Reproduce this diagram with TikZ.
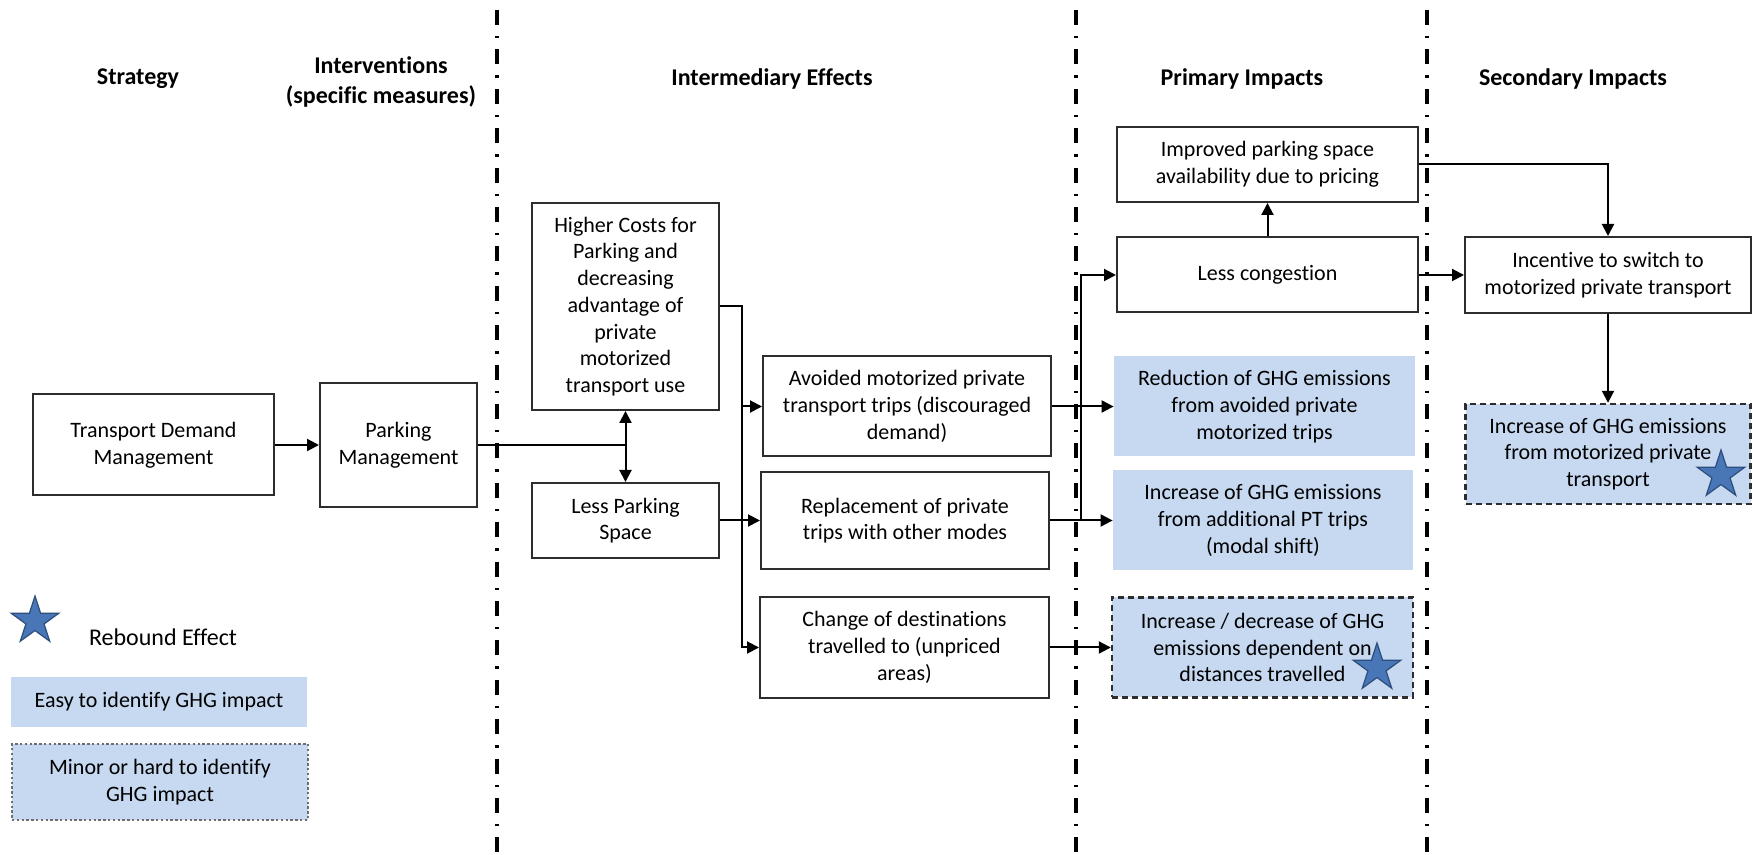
\documentclass[tikz,border=0pt]{standalone}
\usepackage{fontspec}
\setmainfont{Carlito}[Ligatures=NoCommon]
\usetikzlibrary{arrows.meta,shapes.geometric}
\definecolor{ghgblue}{RGB}{198,217,241}
\definecolor{starfill}{RGB}{72,118,182}
\definecolor{starline}{RGB}{45,78,125}
\definecolor{boxline}{RGB}{45,45,45}
\definecolor{dotline}{RGB}{110,110,110}

\begin{document}
\begin{tikzpicture}[x=0.5pt,y=-0.5pt,
  wh/.style 2 args={minimum width=#1*0.5pt,minimum height=#2*0.5pt},
  base/.style={inner sep=0pt,align=center,font=\fontsize{11}{13.35}\selectfont},
  box/.style={base,draw=boxline,line width=1pt,fill=white},
  ghg/.style={base,fill=ghgblue},
  ghgdash/.style={base,fill=ghgblue,draw=boxline,line width=1.2pt,dash pattern=on 3pt off 2pt},
  ghgdot/.style={base,fill=ghgblue,draw=dotline,line width=0.6pt,dash pattern=on 1.2pt off 1.2pt},
  head/.style={inner sep=0pt,align=center,font=\fontsize{12}{15}\selectfont\bfseries},
  divider/.style={line width=1.6pt,dash pattern=on 7.5pt off 5.5pt on 1.2pt off 5.5pt},
  conn/.style={line width=1pt,draw=black},
  arr/.style={conn,-{Triangle[length=6pt,width=6pt]}},
  dbl/.style={conn,{Triangle[length=6pt,width=6pt]}-{Triangle[length=6pt,width=6pt]}},
  rebound/.style={shape=star,star points=5,star point ratio=2.618,minimum size=25pt,inner sep=0pt,fill=starfill,draw=starline,line width=0.6pt}
]
\useasboundingbox (0,0) rectangle (1753,855);

% column dividers
\draw[divider] (497,10) -- (497,855);
\draw[divider] (1076,10) -- (1076,855);
\draw[divider] (1427,10) -- (1427,855);

% column headings
\node[head] (hStrat) at (138,79) {Strategy};
\node[head] (hInt) at (381,82) {Interventions\\(specific measures)};
\node[head] (hMid) at (772,79) {Intermediary Effects};
\node[head] (hPrim) at (1242,79) {Primary Impacts};
\node[head] (hSec) at (1573,79) {Secondary Impacts};

% strategy and intervention
\node[box, wh={241}{101}] (tdm) at (153.5,445) {Transport Demand\\Management};
\node[box, wh={157}{124}] (park) at (398.5,445) {Parking\\Management};

% intermediary effects
\node[box, wh={187}{207}] (hc) at (625.5,306.5) {Higher Costs for\\Parking and\\decreasing\\advantage of\\private\\motorized\\transport use};
\node[box, wh={187}{75}] (lp) at (625.5,520.5) {Less Parking\\Space};
\node[box, wh={288}{100}] (avd) at (907,406.5) {Avoided motorized private\\transport trips (discouraged\\demand)};
\node[box, wh={288}{97}] (rep) at (905,520.5) {Replacement of private\\trips with other modes};
\node[box, wh={289}{101}] (chg) at (904.5,647.5) {Change of destinations\\travelled to (unpriced\\areas)};

% primary impacts
\node[box, wh={301}{75}] (imp) at (1267.5,164.5) {Improved parking space\\availability due to pricing};
\node[box, wh={301}{75}] (lc) at (1267.5,275) {Less congestion};
\node[ghg, wh={301}{100}] (red) at (1264.5,406.5) {Reduction of GHG emissions\\from avoided private\\motorized trips};
\node[ghg, wh={300}{100}] (ipt) at (1263,520.5) {Increase of GHG emissions\\from additional PT trips\\(modal shift)};
\node[ghgdash, wh={301}{100}] (idc) at (1262.5,647.5) {Increase / decrease of GHG\\emissions dependent on\\distances travelled};

% secondary impacts
\node[box, wh={286}{76}] (inc) at (1608,275) {Incentive to switch to\\motorized private transport};
\node[ghgdash, wh={285}{100}] (sec) at (1608,454) {Increase of GHG emissions\\from motorized private\\transport};

% rebound markers
\node[rebound] (starA) at (1377,668) {};
\node[rebound] (starB) at (1721,475) {};

% legend
\node[rebound] (starL) at (35,621) {};
\node[base, font=\fontsize{12}{14}\selectfont] (rebTxt) at (163,637) {Rebound Effect};
\node[ghg, wh={296}{50}] (easy) at (159,702) {Easy to identify GHG impact};
\node[ghgdot, wh={296}{76}] (minor) at (160,782) {Minor or hard to identify\\GHG impact};

% connectors
\draw[arr] (tdm.east) -- (park.west);
\coordinate (split) at (625.5,445);
\draw[conn] (park.east) -- (split);
\draw[dbl] (hc.south) -- (lp.north);

\coordinate (busA) at (742,306.5);
\draw[arr] (hc.east) -- (busA) |- (chg.west);
\draw[arr] (busA |- avd.west) -- (avd.west);
\draw[arr] (lp.east) -- (rep.west);

\draw[arr] (avd.east) -- (red.west);
\draw[arr] (rep.east) -- (ipt.west);
\draw[arr] (chg.east) -- (idc.west);
\coordinate (busB) at (1081,520.5);
\draw[arr] (busB) |- (lc.west);

\draw[arr] (lc.north) -- (imp.south);
\draw[arr] (lc.east) -- (inc.west);
\draw[arr] (imp.east) -| (inc.north);
\draw[arr] (inc.south) -- (sec.north);
\end{tikzpicture}
\end{document}
